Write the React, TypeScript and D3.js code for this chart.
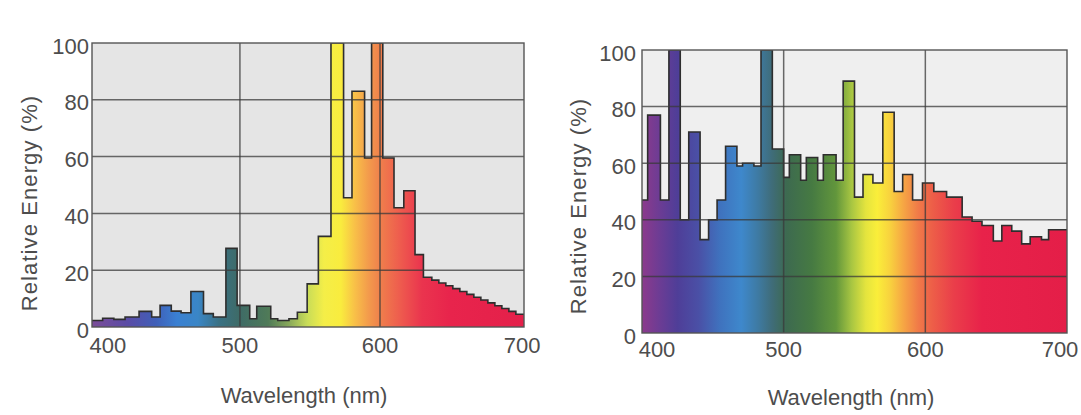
import React from 'react';
import * as d3 from 'd3';

// tick values shared by both panels
const xTicks = [400, 500, 600, 700];
const yTicks = [0, 20, 40, 60, 80, 100];

// left spectrum: bin edges (nm) and relative energy (%) per bin
const leftEdges = [394, 402, 410, 418, 428, 437, 443, 451, 458, 465, 474, 481, 490, 498, 507, 512, 522, 527, 535, 541, 548, 556, 565, 574, 580, 589, 594, 602, 610, 617, 625, 631, 637, 642, 647, 652, 657, 662, 667, 672, 677, 682, 687, 692, 697, 703];
const leftValues = [2.3, 3.1, 2.7, 3.5, 5.5, 3.5, 7.6, 5.6, 5.0, 12.5, 4.7, 3.5, 27.7, 7.6, 2.9, 7.3, 2.9, 2.3, 2.9, 5.2, 15.2, 31.9, 100, 45.5, 83, 59.5, 100, 59.5, 42, 48, 25.5, 17.5, 16.5, 15.5, 14.5, 13.5, 12.5, 11.5, 10.5, 9.5, 8.5, 7.5, 6.5, 5.5, 4.5];

// right spectrum
const rightEdges = [400, 404, 413, 419, 427, 433, 441, 447, 453, 459, 467, 471, 479, 484, 492, 500, 504, 512, 516, 524, 528, 537, 542, 550, 556, 563, 570, 578, 584, 591, 598, 606, 615, 626, 633, 640, 648, 654, 661, 668, 674, 682, 687, 700];
const rightValues = [47, 77, 47, 100, 40, 71, 33, 40, 47, 66, 59, 60, 59, 100, 65, 55, 63, 54, 62, 54, 63, 54, 89, 48, 56, 53, 78, 50, 56, 47, 53, 50, 48, 41, 39.5, 38, 32.5, 38, 36, 31.5, 34, 33, 36.5];

// spectral colour ramps (wavelength -> colour)
const leftStops: [number, string][] = [
  [394, '#7b4d98'], [420, '#5a4ca6'], [440, '#3f5fb8'], [455, '#3a80d2'], [470, '#3a86c6'],
  [485, '#3a7184'], [500, '#3e6b66'], [520, '#4f7a58'], [535, '#88a85a'], [548, '#c8dc58'],
  [560, '#f4ee48'], [572, '#f9ec3e'], [582, '#f8c048'], [592, '#f39a4c'], [602, '#ef7a4c'],
  [615, '#ee5a4e'], [630, '#ea344e'], [650, '#e8244c'], [703, '#e4204a'],
];
const rightStops: [number, string][] = [
  [400, '#8c3a8c'], [412, '#6d3c94'], [425, '#4f3e98'], [440, '#4a50a6'], [455, '#3f72be'],
  [470, '#3e88cc'], [482, '#3e7aa2'], [492, '#3f6c78'], [502, '#3d6a50'], [520, '#467a42'],
  [537, '#62963c'], [548, '#a8c642'], [558, '#e4e43e'], [566, '#faee3a'], [575, '#f8d23e'],
  [585, '#f6a444'], [595, '#f07a48'], [605, '#ed5e48'], [620, '#ea3e4a'], [640, '#e8224a'],
  [700, '#e41e48'],
];

const FONT = '"Liberation Sans", Arial, Helvetica, sans-serif';
const TEXT = '#4d4d4d';

type Box = { left: number; right: number; top: number; bottom: number };

function Panel({ id, edges, values, stops, box, dom, bg, tickDx, yLabelX, xLabelY, yTitleX, yTitleY, xTitleX, xTitleY }: any) {
  const x = d3.scaleLinear().domain(dom).range([box.left, box.right]);
  const y = d3.scaleLinear().domain([0, 100]).range([box.bottom, box.top]);

  const pts: [number, number][] = edges.map((e: number, i: number) => [e, values[Math.min(i, values.length - 1)]]);
  const area = d3.area<[number, number]>()
    .x(d => x(d[0]))
    .y0(y(0))
    .y1(d => y(d[1]))
    .curve(d3.curveStepAfter);
  const line = d3.line<[number, number]>()
    .x(d => x(d[0]))
    .y(d => y(d[1]))
    .curve(d3.curveStepAfter);

  const b: Box = box;
  return (
    <g>
      <defs>
        <linearGradient id={`grad-${id}`} gradientUnits="userSpaceOnUse" x1={x(dom[0])} x2={x(dom[1])} y1={0} y2={0}>
          {stops.map(([w, c]: [number, string]) => (
            <stop key={w} offset={(w - dom[0]) / (dom[1] - dom[0])} stopColor={c} />
          ))}
        </linearGradient>
        <clipPath id={`clip-${id}`}>
          <rect x={b.left} y={b.top} width={b.right - b.left} height={b.bottom - b.top} />
        </clipPath>
      </defs>

      <rect x={b.left} y={b.top} width={b.right - b.left} height={b.bottom - b.top} fill={bg} />

      <g clipPath={`url(#clip-${id})`}>
        <path d={area(pts) || ''} fill={`url(#grad-${id})`} />
        <path d={line(pts) || ''} fill="none" stroke="#2e2e2e" strokeWidth={1.6} strokeLinejoin="miter" />
      </g>

      {/* grid over the bars */}
      {yTicks.slice(1, -1).map(t => (
        <line key={`h${t}`} x1={b.left} x2={b.right} y1={y(t)} y2={y(t)} stroke="#3a3a3a" strokeOpacity={0.75} strokeWidth={1.5} />
      ))}
      {xTicks.slice(1, -1).map(t => (
        <line key={`v${t}`} x1={x(t)} x2={x(t)} y1={b.top} y2={b.bottom} stroke="#3a3a3a" strokeOpacity={0.75} strokeWidth={1.5} />
      ))}
      <rect x={b.left} y={b.top} width={b.right - b.left} height={b.bottom - b.top} fill="none" stroke="#555" strokeWidth={1.4} />

      {/* axis labels */}
      {yTicks.map(t => (
        <text key={`yl${t}`} x={yLabelX} y={y(t) + 3} textAnchor="end" dominantBaseline="central"
          fontFamily={FONT} fontSize={22} fill={TEXT}>{t}</text>
      ))}
      {xTicks.map((t, i) => (
        <text key={`xl${t}`} x={x(t) + tickDx[i]} y={xLabelY} textAnchor="middle" dominantBaseline="central"
          fontFamily={FONT} fontSize={22} fill={TEXT}>{t}</text>
      ))}

      <text x={xTitleX} y={xTitleY} textAnchor="middle" dominantBaseline="central"
        fontFamily={FONT} fontSize={22} fill={TEXT}>Wavelength (nm)</text>
      <text transform={`translate(${yTitleX},${yTitleY}) rotate(-90)`} textAnchor="middle" dominantBaseline="central"
        fontFamily={FONT} fontSize={22} letterSpacing={1.1} fill={TEXT}>Relative Energy (%)</text>
    </g>
  );
}

export default function App() {
  return (
    <svg width={1081} height={415} style={{ position: 'absolute', left: 0, top: 0, background: '#fff' }}>
      <Panel
        id="left"
        edges={leftEdges}
        values={leftValues}
        stops={leftStops}
        box={{ left: 92, right: 524, top: 43, bottom: 327 }}
        dom={[394.4, 702.8]}
        bg="#e5e5e5"
        tickDx={[8, 0, 0, 2]}
        yLabelX={89}
        xLabelY={345}
        yTitleX={29}
        yTitleY={203}
        xTitleX={304}
        xTitleY={395}
      />
      <Panel
        id="right"
        edges={rightEdges}
        values={rightValues}
        stops={rightStops}
        box={{ left: 642, right: 1067, top: 50, bottom: 333 }}
        dom={[400, 700]}
        bg="#efefef"
        tickDx={[15, 0, 0, -7]}
        yLabelX={636}
        xLabelY={349}
        yTitleX={578}
        yTitleY={206}
        xTitleX={851}
        xTitleY={397}
      />
    </svg>
  );
}
